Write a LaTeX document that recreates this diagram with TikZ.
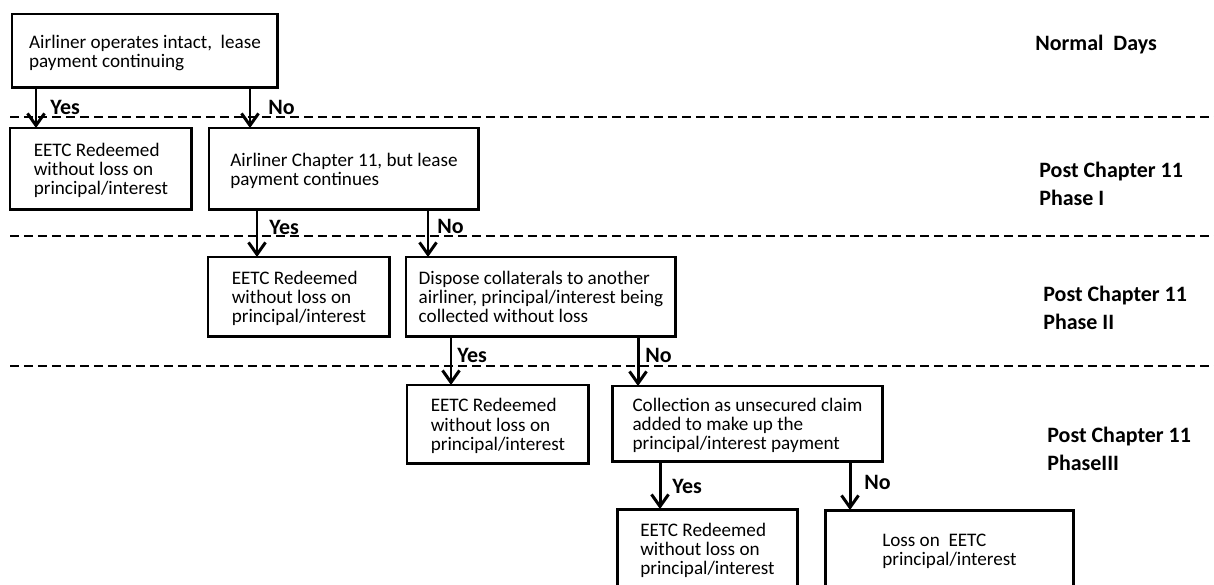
\documentclass[tikz,border=0pt]{standalone}
\usepackage{fontspec}
\setmainfont{Carlito}
\usetikzlibrary{arrows.meta}
\begin{document}
\begin{tikzpicture}[x=0.02cm,y=-0.02cm,
  box/.style={draw, line width=1.7pt, inner sep=0pt, outer sep=0pt, align=left,
    text depth=0pt, font=\fontsize{10.9}{10.9}\selectfont, anchor=north west},
  arr/.style={line width=1.7pt, -{Straight Barb[length=0.24cm,width=0.34cm]}},
  lbl/.style={font=\fontsize{12.5}{12.5}\bfseries\selectfont, anchor=west, inner sep=0pt},
  phase/.style={font=\fontsize{12.5}{15.9}\bfseries\selectfont, anchor=west, align=left, inner sep=0pt},
  sep/.style={line width=1.7pt, dash pattern=on 0.18cm off 0.1cm}]
\useasboundingbox (0,0) rectangle (1214,585);
\clip (0,0) rectangle (1214,585);

% separators
\coordinate (d1l) at (10,117); \coordinate (d1r) at (1214,117);
\coordinate (d2l) at (10,236); \coordinate (d2r) at (1214,236);
\coordinate (d3l) at (10,366); \coordinate (d3r) at (1214,366);
\draw[sep] (d1l) -- (d1r);
\draw[sep] (d2l) -- (d2r);
\draw[sep] (d3l) -- (d3r);

% boxes
\node[box, minimum width=5.32cm, minimum height=1.48cm] (b1) at (12,14)
  {Airliner operates intact,\ \ lease\\payment continuing};
\node[box, minimum width=3.64cm, minimum height=1.64cm] (b2) at (10,128)
  {EETC Redeemed\\without loss on\\principal/interest};
\node[box, minimum width=5.40cm, minimum height=1.64cm] (b3) at (209,128)
  {Airliner Chapter 11, but lease\\payment continues};
\node[box, minimum width=3.64cm, minimum height=1.60cm] (b4) at (208,257)
  {EETC Redeemed\\without loss on\\principal/interest};
\node[box, minimum width=5.40cm, minimum height=1.60cm] (b5) at (406,257)
  {Dispose collaterals to another\\airliner, principal/interest being\\collected without loss};
\node[box, minimum width=3.64cm, minimum height=1.58cm] (b6) at (407,385)
  {EETC Redeemed\\without loss on\\principal/interest};
\node[box, minimum width=5.42cm, minimum height=1.52cm] (b7) at (612,386)
  {Collection as unsecured claim\\added to make up the\\principal/interest payment};
\node[box, minimum width=3.62cm, minimum height=1.60cm] (b8) at (617,509)
  {EETC Redeemed\\without loss on\\principal/interest};
\node[box, minimum width=4.98cm, minimum height=1.60cm] (b9) at (825,510)
  {Loss on\ \ EETC\\principal/interest};

% arrow x positions
\coordinate (xa) at (36,0);
\coordinate (xb) at (250,0);
\coordinate (xc) at (257,0);
\coordinate (xd) at (428,0);
\coordinate (xe) at (451,0);
\coordinate (xf) at (638,0);
\coordinate (xg) at (660,0);
\coordinate (xh) at (850,0);

\draw[arr] (b1.south -| xa) -- (b2.north -| xa);
\draw[arr] (b1.south -| xb) -- (b3.north -| xb);
\draw[arr] (b3.south -| xc) -- (b4.north -| xc);
\draw[arr] (b3.south -| xd) -- (b5.north -| xd);
\draw[arr] (b5.south -| xe) -- (b6.north -| xe);
\draw[arr] (b5.south -| xf) -- (b7.north -| xf);
\draw[arr] (b7.south -| xg) -- (b8.north -| xg);
\draw[arr] (b7.south -| xh) -- (b9.north -| xh);

% yes / no labels
\node[lbl] (la) at (50,107) {Yes};
\node[lbl] (lb) at (268,107) {No};
\node[lbl] (lc) at (269,227) {Yes};
\node[lbl] (ld) at (437,226) {No};
\node[lbl] (le) at (457,355) {Yes};
\node[lbl] (lf) at (645,355) {No};
\node[lbl] (lg) at (672,486) {Yes};
\node[lbl] (lh) at (864,482) {No};

% phase labels
\node[lbl] (p0) at (1035,45) {Normal\ \ Days};
\node[phase] (p1) at (1039,184) {Post Chapter 11\\Phase I};
\node[phase] (p2) at (1043,308) {Post Chapter 11\\Phase II};
\node[phase] (p3) at (1047,449) {Post Chapter 11\\PhaseIII};
\end{tikzpicture}
\end{document}
